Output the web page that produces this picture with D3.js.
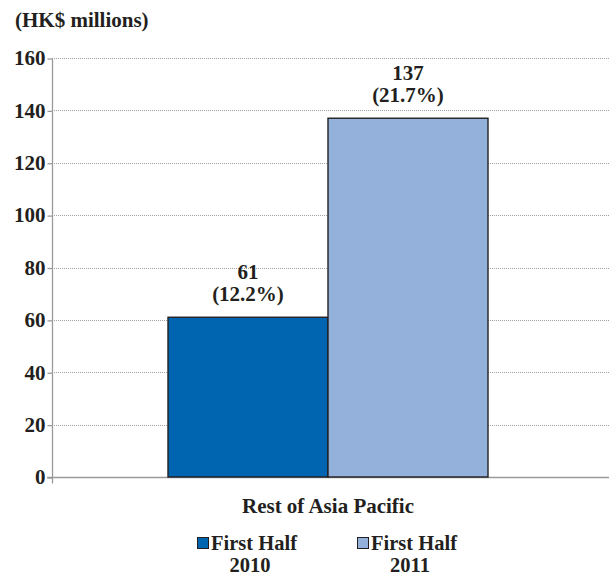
<!DOCTYPE html>
<html>
<head>
<meta charset="utf-8">
<script src="https://cdn.jsdelivr.net/npm/d3@7"></script>
<style>
  body { margin: 0; background: #fff; }
  svg { display: block; }
</style>
</head>
<body>
<svg id="chart" width="611" height="577"></svg>
<script>
// Rest of Asia Pacific, HK$ millions
const categories = ["Rest of Asia Pacific"];
const seriesNames = ["First Half 2010", "First Half 2011"];
const values = [61, 137];
const shares = ["12.2%", "21.7%"];
const yTicks = [0, 20, 40, 60, 80, 100, 120, 140, 160];
const colors = ["#0065b0", "#93b1da"];

const FONT = "'Liberation Serif', 'Times New Roman', Times, serif";
const INK = "#231f20";
const FS = 21;

const svg = d3.select("#chart");
const plot = { left: 52, right: 604, gridRight: 609, top: 58, bottom: 477 };

const y = d3.scaleLinear().domain([0, 160]).range([plot.bottom, plot.top]);
const x0 = d3.scaleBand().domain(categories).range([plot.left, plot.right]);
const x1 = d3.scaleBand().domain(seriesNames)
  .range([x0(categories[0]) + 116, x0(categories[0]) + x0.bandwidth() - 116]);

function txt(sel, size = FS) {
  return sel.style("font-family", FONT).style("font-weight", "bold")
    .attr("fill", INK).attr("font-size", size);
}

// Unit caption
txt(svg.append("text")).attr("x", 15).attr("y", 26.5).text("(HK$ millions)");

// Dotted gridlines
svg.append("g").selectAll("line").data(yTicks.filter(d => d > 0)).join("line")
  .attr("x1", plot.left).attr("x2", plot.gridRight)
  .attr("y1", d => Math.round(y(d)) + 0.5).attr("y2", d => Math.round(y(d)) + 0.5)
  .attr("stroke", "#a0a0a0").attr("stroke-width", 1).attr("stroke-dasharray", "1,1");

// Y axis
const yAxis = d3.axisLeft(y).tickValues(yTicks).tickSize(5).tickPadding(2);
const gy = svg.append("g").attr("transform", `translate(${plot.left + 0.5},0.5)`).call(yAxis);
gy.select(".domain").attr("stroke", "#9a9a9a").attr("stroke-width", 1.3)
  .attr("d", `M0,${plot.top}V${plot.bottom + 6}`);
gy.selectAll(".tick line").attr("stroke", "#9a9a9a").attr("stroke-width", 1.3);
txt(gy.selectAll(".tick text")).attr("dy", "0.3em");

// Baseline
svg.append("line").attr("x1", plot.left - 5).attr("x2", plot.gridRight)
  .attr("y1", plot.bottom + 0.5).attr("y2", plot.bottom + 0.5)
  .attr("stroke", "#9a9a9a").attr("stroke-width", 1.6);

// Bars
svg.append("g").selectAll("rect").data(values).join("rect")
  .attr("x", (d, i) => x1(seriesNames[i]))
  .attr("y", d => y(d))
  .attr("width", x1.bandwidth())
  .attr("height", d => y(0) - y(d))
  .attr("fill", (d, i) => colors[i])
  .attr("stroke", INK).attr("stroke-width", 1.4);

// Value labels
const labels = svg.append("g").attr("text-anchor", "middle");
values.forEach((v, i) => {
  const cx = x1(seriesNames[i]) + x1.bandwidth() / 2;
  txt(labels.append("text")).attr("x", cx).attr("y", y(v) - 38).text(v);
  txt(labels.append("text")).attr("x", cx).attr("y", y(v) - 16).text(`(${shares[i]})`);
});

// Category label
txt(svg.append("text")).attr("x", x0(categories[0]) + x0.bandwidth() / 2).attr("y", 513)
  .attr("text-anchor", "middle").text(categories[0]);

// Legend
const legend = svg.append("g");
const legendX = [197, 357];
seriesNames.forEach((name, i) => {
  const parts = name.split(" ");
  const g = legend.append("g").attr("transform", `translate(${legendX[i]},0)`);
  g.append("rect").attr("x", 0.5).attr("y", 537.5).attr("width", 11).attr("height", 11)
    .attr("fill", colors[i]).attr("stroke", INK).attr("stroke-width", 1);
  txt(g.append("text"), 20.5).attr("x", 14).attr("y", 549.5).text(parts.slice(0, 2).join(" "));
  txt(g.append("text"), 20.5).attr("x", 53).attr("y", 572).attr("text-anchor", "middle").text(parts[2]);
});
</script>
</body>
</html>
